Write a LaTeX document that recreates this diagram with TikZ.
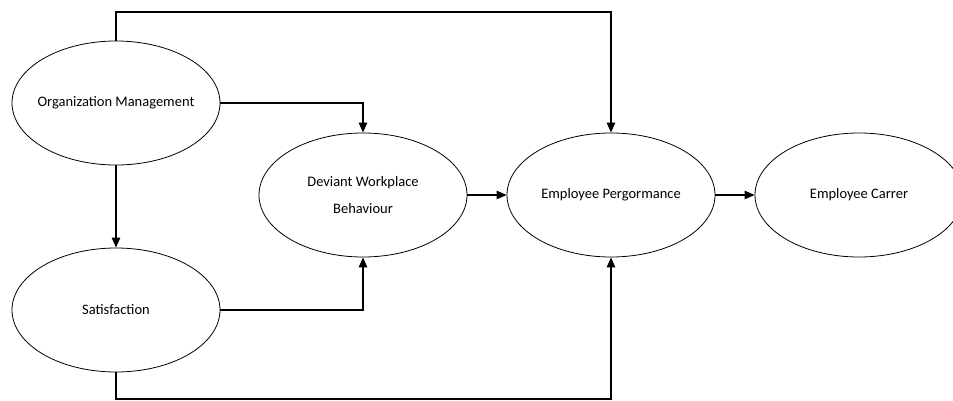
\documentclass[tikz,border=0pt]{standalone}
\usepackage{fontspec}
\setmainfont{Carlito}
\usetikzlibrary{arrows.meta,shapes.geometric}
\begin{document}
\begin{tikzpicture}[x=1pt,y=-1pt,
  oval/.style={draw,ellipse,line width=0.8pt,minimum width=208pt,minimum height=124pt,inner ysep=0pt,inner xsep=-25pt,align=center,font=\fontsize{14.5}{18}\selectfont},
  conn/.style={line width=1.1pt,-{Triangle[length=10pt,width=8.5pt]}}]
\useasboundingbox (0,0) rectangle (953,401);
\node[oval] (om) at (116,103) {Organization Management};
\node[oval] (sat) at (116,310) {Satisfaction};
\node[oval] (dev) at (363,195) {Deviant Workplace\\[9pt]Behaviour};
\node[oval] (ep) at (611,195) {Employee Pergormance};
\node[oval] (ec) at (859,195) {Employee Carrer};
\coordinate (top) at (116,12);
\coordinate (bot) at (116,399);
\draw[conn] (om.north) -- (top) -| (ep.north);
\draw[conn] (om.east) -| (dev.north);
\draw[conn] (om.south) -- (sat.north);
\draw[conn] (sat.east) -| (dev.south);
\draw[conn] (sat.south) -- (bot) -| (ep.south);
\draw[conn] (dev.east) -- (ep.west);
\draw[conn] (ep.east) -- (ec.west);
\end{tikzpicture}
\end{document}
